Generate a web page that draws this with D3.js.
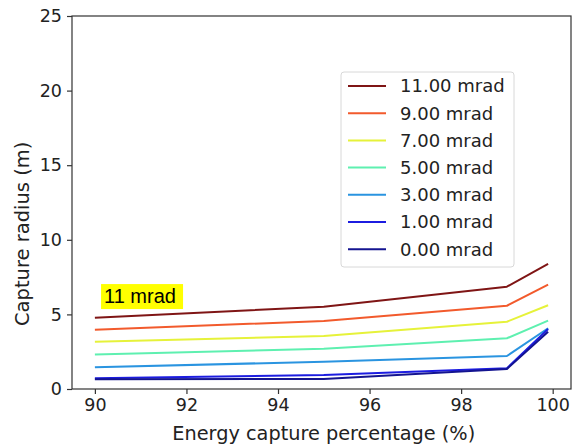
<!DOCTYPE html>
<html>
<head>
    <meta charset="utf-8">
    <style>
        body { margin: 0; background: #fff; }
    </style>
</head>
<body>
    <script src="https://cdn.jsdelivr.net/npm/d3@7"></script>
    <script>
        // energy capture percentage (%)
        var percentages = [90, 95, 99, 99.9];
        var seriesNames = ["11.00 mrad", "9.00 mrad", "7.00 mrad", "5.00 mrad", "3.00 mrad", "1.00 mrad", "0.00 mrad"];
        var seriesColors = ["#7f1515", "#f25a2c", "#e6f23a", "#5ef0b0", "#2a94e0", "#1c1ce0", "#141490"];
        var r11 = [4.78, 5.52, 6.86, 8.38];
        var r9 = [3.97, 4.56, 5.58, 6.99];
        var r7 = [3.17, 3.55, 4.51, 5.61];
        var r5 = [2.32, 2.70, 3.40, 4.58];
        var r3 = [1.45, 1.83, 2.21, 4.07];
        var r1 = [0.72, 0.94, 1.39, 4.02];
        var r0 = [0.65, 0.67, 1.34, 3.84];
        var seriesValues = [r11, r9, r7, r5, r3, r1, r0];
        var yTicks = [0, 5, 10, 15, 20, 25];
        var xTicks = [90, 92, 94, 96, 98, 100];

        var margin = { left: 72, top: 16, right: 5, bottom: 57 };
        var totalWidth = 576, totalHeight = 446;
        var graphWidth = totalWidth - margin.left - margin.right;
        var graphHeight = totalHeight - margin.top - margin.bottom;
        var tickFont = "DejaVu Sans, sans-serif";

        var xScale = d3.scaleLinear()
            .domain([89.5, 100.4])
            .range([0, graphWidth]);
        var yScale = d3.scaleLinear()
            .domain([0, 25])
            .range([graphHeight, 0]);

        var svg = d3.select("body").append("svg")
            .attr("width", totalWidth)
            .attr("height", totalHeight)
            .style("font-family", tickFont);

        var plot = svg.append("g")
            .attr("transform", "translate(" + margin.left + "," + margin.top + ")");

        var line = d3.line()
            .x(function (d, i) { return xScale(percentages[i]); })
            .y(function (d) { return yScale(d); });

        plot.selectAll("path.series")
            .data(seriesValues)
            .enter()
            .append("path")
            .attr("class", "series")
            .attr("d", line)
            .attr("fill", "none")
            .attr("stroke", function (d, i) { return seriesColors[i]; })
            .attr("stroke-width", 2)
            .attr("stroke-linejoin", "round");

        // frame
        plot.append("rect")
            .attr("width", graphWidth)
            .attr("height", graphHeight)
            .attr("fill", "none")
            .attr("stroke", "#333")
            .attr("stroke-width", 1.2);

        var xAxis = plot.append("g")
            .attr("transform", "translate(0," + graphHeight + ")")
            .call(d3.axisBottom(xScale).tickValues(xTicks).tickSize(5).tickPadding(5));
        var yAxis = plot.append("g")
            .call(d3.axisLeft(yScale).tickValues(yTicks).tickSize(5).tickPadding(5));
        [xAxis, yAxis].forEach(function (ax) {
            ax.select(".domain").remove();
            ax.selectAll(".tick line").attr("stroke", "#333").attr("stroke-width", 1.2);
            ax.selectAll(".tick text")
                .attr("fill", "#222")
                .style("font-size", "17.5px")
                .style("font-family", tickFont);
        });

        // axis labels
        svg.append("text")
            .attr("x", margin.left + xScale(95))
            .attr("y", 440)
            .attr("text-anchor", "middle")
            .attr("fill", "#222")
            .style("font-size", "19.3px")
            .text("Energy capture percentage (%)");
        svg.append("text")
            .attr("transform", "translate(29," + (margin.top + yScale(10.4)) + ") rotate(-90)")
            .attr("text-anchor", "middle")
            .attr("fill", "#222")
            .style("font-size", "19.5px")
            .text("Capture radius (m)");

        // annotation
        var note = plot.append("g")
            .attr("transform", "translate(" + xScale(90.2) + "," + yScale(5.76) + ")");
        note.append("rect")
            .attr("x", -3).attr("y", -19)
            .attr("width", 82).attr("height", 25)
            .attr("fill", "#ffff00");
        note.append("text")
            .attr("x", 0).attr("y", 0)
            .attr("fill", "#000")
            .style("font-family", "Liberation Sans, Arial, sans-serif")
            .style("font-size", "20px")
            .text("11 mrad");

        // legend
        var legend = svg.append("g")
            .attr("transform", "translate(341,72)");
        legend.append("rect")
            .attr("width", 173).attr("height", 195)
            .attr("rx", 3)
            .attr("fill", "#fff")
            .attr("fill-opacity", 0.85)
            .attr("stroke", "#d8d8d8");
        var items = legend.selectAll("g.item")
            .data(seriesNames)
            .enter()
            .append("g")
            .attr("class", "item")
            .attr("transform", function (d, i) { return "translate(0," + (14 + i * 27.2) + ")"; });
        items.append("line")
            .attr("x1", 7).attr("x2", 45)
            .attr("stroke", function (d, i) { return seriesColors[i]; })
            .attr("stroke-width", 2);
        items.append("text")
            .attr("x", 59)
            .attr("dy", "0.36em")
            .attr("fill", "#222")
            .style("font-size", "18px")
            .text(function (d) { return d; });
    </script>
</body>
</html>
